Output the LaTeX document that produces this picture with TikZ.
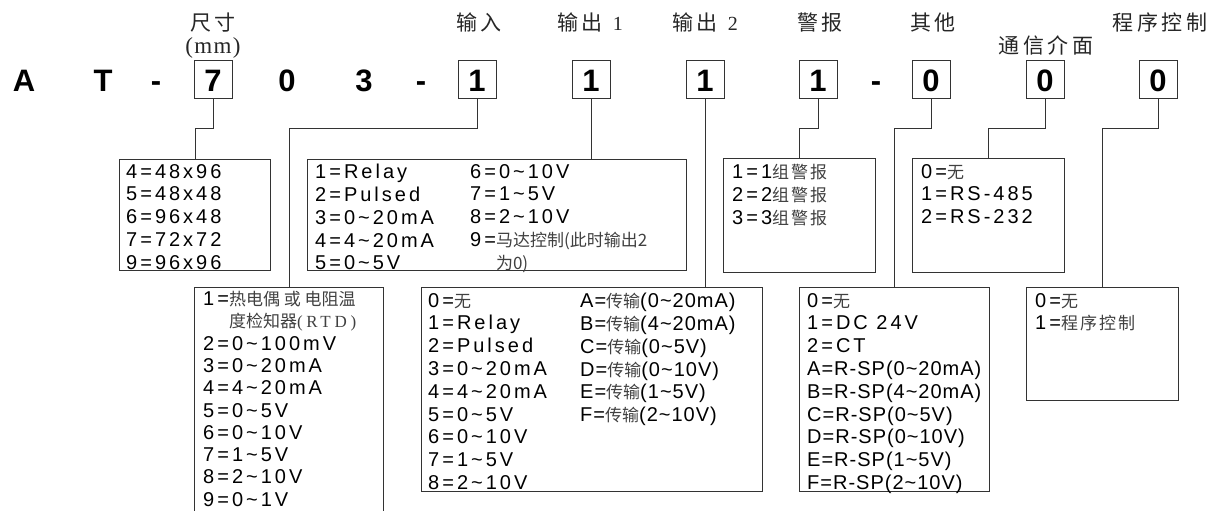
\documentclass[tikz,border=0pt]{standalone}
\usepackage{fontspec}
\setmainfont{Liberation Sans}
\newfontfamily\codefont{Liberation Sans}[LetterSpace=15]
\newfontfamily\tightfont{Liberation Sans}[LetterSpace=5]
\newfontfamily\bigfont{Liberation Sans}
\newfontfamily\cjk{Noto Sans CJK SC}
\newfontfamily\cjkwide{Noto Sans CJK SC}[LetterSpace=12]
\newfontfamily\headfont{Noto Sans CJK SC}[LetterSpace=18]
\newfontfamily\serifwide{Liberation Serif}[LetterSpace=22]
\newfontfamily\seriftight{Liberation Serif}[LetterSpace=6]
\newcommand\wave{\textasciitilde}
\newcommand\zh[1]{{\cjk\fontsize{17}{22.8}\selectfont\color{black!75}#1}}
\newcommand\zhw[1]{{\cjkwide\fontsize{17}{22.8}\selectfont\color{black!75}#1}}
\begin{document}
\begin{tikzpicture}[x=1pt,y=-1pt,
  wire/.style={draw=black!80,line width=0.9pt},
  codebox/.style={draw=black!80,line width=0.9pt,minimum width=38pt,minimum height=38pt,inner sep=0pt,
    text height=26pt,text depth=0pt,anchor=base,font=\bigfont\bfseries\fontsize{31}{31}\selectfont},
  codechar/.style={anchor=base,inner sep=0pt,font=\bigfont\bfseries\fontsize{31}{31}\selectfont},
  head/.style={anchor=base,inner sep=0pt,text=black!85,font=\headfont\fontsize{21}{21}\selectfont},
  optbox/.style={draw=black!80,line width=0.9pt,anchor=north west,inner sep=0pt},
  opttext/.style={anchor=north west,inner sep=0pt,align=left,font=\codefont\fontsize{20}{22.8}\selectfont}]
\useasboundingbox (0,0) rectangle (1212,511);
% headings
\node[head] (hsize) at (213,31) {尺寸};
\node[head,font=\seriftight\fontsize{23}{23}\selectfont] (hmm) at (213,54) {(mm)};
\node[head] (hin) at (479,31) {输入};
\node[head] (hout1) at (590,31) {输出\hspace{10pt}{\serifwide\fontsize{20}{20}\selectfont 1}};
\node[head] (hout2) at (705,31) {输出\hspace{10pt}{\serifwide\fontsize{20}{20}\selectfont 2}};
\node[head] (halarm) at (820,31) {警报};
\node[head] (hother) at (933,31) {其他};
\node[head] (hcomm) at (1046,53) {通信介面};
\node[head] (hprog) at (1160,31) {程序控制};
% model code
\node[codechar] (la) at (24,92) {A};
\node[codechar] (lt) at (103,92) {T};
\node[codechar] (ldash1) at (156,92) {-};
\node[codebox] (dsize) at (213,92) {7};
\node[codechar] (l0) at (287,92) {0};
\node[codechar] (l3) at (364,92) {3};
\node[codechar] (ldash2) at (421,92) {-};
\node[codebox] (din) at (477,92) {1};
\node[codebox] (dout1) at (591,92) {1};
\node[codebox] (dout2) at (705,92) {1};
\node[codebox] (dalarm) at (818,92) {1};
\node[codechar] (ldash3) at (876,92) {-};
\node[codebox] (dother) at (931,92) {0};
\node[codebox] (dcomm) at (1045,92) {0};
\node[codebox] (dprog) at (1158,92) {0};
% option boxes, upper row
\node[optbox,minimum width=151pt,minimum height=111pt] (sizebox) at (119,159) {};
\node[opttext] (sizetext) at ([shift={(7,5)}]sizebox.north west) {4=48x96\\5=48x48\\6=96x48\\7=72x72\\9=96x96};
\node[optbox,minimum width=379pt,minimum height=111pt] (out1box) at (307,159) {};
\node[opttext] (out1texta) at ([shift={(8,5)}]out1box.north west) {1=Relay\\2=Pulsed\\3=0\wave20mA\\4=4\wave20mA\\5=0\wave5V};
\node[opttext] (out1textb) at ([shift={(163,5)}]out1box.north west) {6=0\wave10V\\7=1\wave5V\\8=2\wave10V\\9=\zh{马达控制(此时输出2}\\\phantom{9=}\zh{为0)}};
\node[optbox,minimum width=152pt,minimum height=114pt] (alarmbox) at (723,158) {};
\node[opttext] (alarmtext) at ([shift={(9,6)}]alarmbox.north west) {1=1\zhw{组警报}\\2=2\zhw{组警报}\\3=3\zhw{组警报}};
\node[optbox,minimum width=152pt,minimum height=114pt] (commbox) at (912,158) {};
\node[opttext] (commtext) at ([shift={(9,6)}]commbox.north west) {0=\zh{无}\\1=RS-485\\2=RS-232};
% option boxes, lower row
\node[optbox,minimum width=189pt,minimum height=250pt] (inbox) at (194,287) {};
\node[opttext,font=\codefont\fontsize{20}{22.3}\selectfont] (intext) at ([shift={(9,4)}]inbox.north west) {1=\zh{热电偶 或 电阻温}\\\phantom{1=}\zh{度检知器}{\serifwide\fontsize{17}{22.3}\selectfont\color{black!75}(RTD)}\\2=0\wave100mV\\3=0\wave20mA\\4=4\wave20mA\\5=0\wave5V\\6=0\wave10V\\7=1\wave5V\\8=2\wave10V\\9=0\wave1V};
\node[optbox,minimum width=341pt,minimum height=204pt] (out2box) at (421,287) {};
\node[opttext] (out2texta) at ([shift={(7,6)}]out2box.north west) {0=\zh{无}\\1=Relay\\2=Pulsed\\3=0\wave20mA\\4=4\wave20mA\\5=0\wave5V\\6=0\wave10V\\7=1\wave5V\\8=2\wave10V};
\node[opttext,font=\tightfont\fontsize{20}{22.8}\selectfont] (out2textb) at ([shift={(159,6)}]out2box.north west) {A=\zh{传输}(0\wave20mA)\\B=\zh{传输}(4\wave20mA)\\C=\zh{传输}(0\wave5V)\\D=\zh{传输}(0\wave10V)\\E=\zh{传输}(1\wave5V)\\F=\zh{传输}(2\wave10V)};
\node[optbox,minimum width=190pt,minimum height=204pt] (otherbox) at (799,287) {};
\node[opttext] (othertext) at ([shift={(8,6)}]otherbox.north west) {0=\zh{无}\\1=DC 24V\\2=CT\\{\tightfont A=R-SP(0\wave20mA)}\\{\tightfont B=R-SP(4\wave20mA)}\\{\tightfont C=R-SP(0\wave5V)}\\{\tightfont D=R-SP(0\wave10V)}\\{\tightfont E=R-SP(1\wave5V)}\\{\tightfont F=R-SP(2\wave10V)}};
\node[optbox,minimum width=152pt,minimum height=113pt] (progbox) at (1026,287) {};
\node[opttext] (progtext) at ([shift={(9,6)}]progbox.north west) {0=\zh{无}\\1=\zhw{程序控制}};
% connectors
\draw[wire] (dsize.south) -- ++(0,30) -| (sizebox.north);
\draw[wire] (din.south) -- ++(0,30) -| (inbox.north);
\draw[wire] (dout1.south) -- (dout1.south |- out1box.north);
\draw[wire] (dout2.south) -- (dout2.south |- out2box.north);
\draw[wire] (dalarm.south) -- ++(0,30) -| (alarmbox.north);
\draw[wire] (dother.south) -- ++(0,30) -| (otherbox.north);
\draw[wire] (dcomm.south) -- ++(0,30) -| (commbox.north);
\draw[wire] (dprog.south) -- ++(0,30) -| (progbox.north);
\end{tikzpicture}
\end{document}
